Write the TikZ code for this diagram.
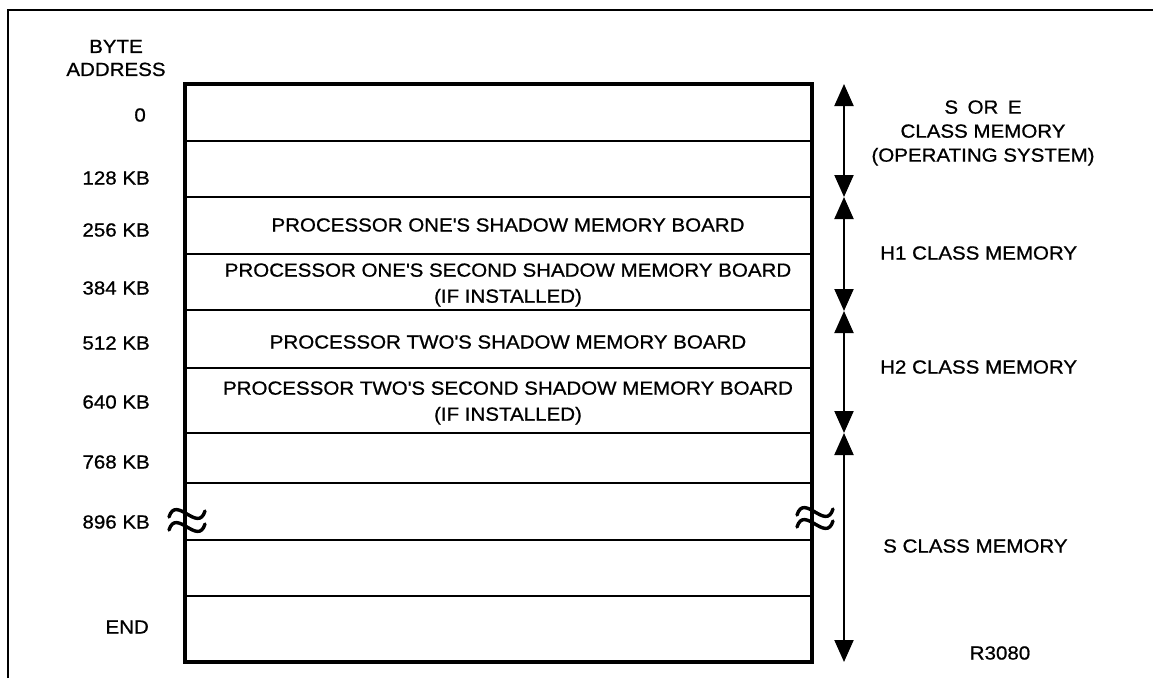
\documentclass[tikz,border=0pt]{standalone}
\usepackage{fontspec}
\setmainfont{Liberation Sans}[FakeStretch=1.08,FakeBold=0.8]
\usetikzlibrary{arrows.meta}
\begin{document}
\begin{tikzpicture}[x=1pt,y=-1pt,
  lbl/.style={inner sep=0pt,font=\fontsize{19}{22}\selectfont},
  addr/.style={lbl,anchor=east},
  rowtxt/.style={inner sep=0pt,align=center,font=\fontsize{19}{26}\selectfont},
  sidetxt/.style={lbl,align=center,font=\fontsize{19}{24}\selectfont},
  frame/.style={line width=2.2pt},
  boxline/.style={line width=1.8pt},
  boxedge/.style={line width=3.5pt},
  dim/.style={line width=2pt,{Triangle[length=22pt,width=19pt]}-{Triangle[length=22pt,width=19pt]}},
  wave/.style={line width=3.4pt,line cap=round}]
\useasboundingbox (0,0) rectangle (1153,678);
% outer frame (open at right and bottom)
\coordinate (fl) at (8,678);
\coordinate (ftl) at (8,10);
\coordinate (ftr) at (1153,10);
\draw[frame] (fl) -- (ftl) -- (ftr);
% row separators
\foreach \yy in {141,197,254,310,368,433,483,540,596}
  \draw[boxline] (185,\yy) -- (812,\yy);
% main box
\draw[boxedge] (185,84) rectangle (812,662);
% break marks
\foreach \xx/\yy in {169/514,169/527,797/512,797/524}
  \draw[wave,fill=none] (\xx,\yy+3) .. controls (\xx+7,\yy-20) and (\xx+29,\yy+20) .. (\xx+36,\yy-3);
% column heading
\node[lbl,align=center,font=\fontsize{19}{23}\selectfont] (hdr) at (116,58) {BYTE\\ADDRESS};
% addresses
\node[addr] (a0) at (146,115) {0};
\node[addr] (a128) at (150,178) {128 KB};
\node[addr] (a256) at (150,230) {256 KB};
\node[addr] (a384) at (150,288) {384 KB};
\node[addr] (a512) at (150,343) {512 KB};
\node[addr] (a640) at (150,402) {640 KB};
\node[addr] (a768) at (150,462) {768 KB};
\node[addr] (a896) at (150,522) {896 KB};
\node[addr] (aend) at (149,627) {END};
% row texts
\node[rowtxt] (r1) at (508,225) {PROCESSOR ONE\textquotesingle S SHADOW MEMORY BOARD};
\node[rowtxt] (r2) at (508,285) {PROCESSOR ONE\textquotesingle S SECOND SHADOW MEMORY BOARD\\(IF INSTALLED)};
\node[rowtxt] (r3) at (508,342) {PROCESSOR TWO\textquotesingle S SHADOW MEMORY BOARD};
\node[rowtxt] (r4) at (508,403) {PROCESSOR TWO\textquotesingle S SECOND SHADOW MEMORY BOARD\\(IF INSTALLED)};
% dimension arrows
\coordinate (d0) at (844,84);
\coordinate (d1) at (844,197);
\coordinate (d2) at (844,311);
\coordinate (d3) at (844,433);
\coordinate (d4) at (844,662);
\draw[dim] (d0) -- (d1);
\draw[dim] (d1) -- (d2);
\draw[dim] (d2) -- (d3);
\draw[dim] (d3) -- (d4);
% side labels
\node[sidetxt] (sos) at (983,133) {S\enspace OR\enspace E\\CLASS MEMORY\\(OPERATING SYSTEM)};
\node[lbl,anchor=west] (h1) at (880,253) {H1 CLASS MEMORY};
\node[lbl,anchor=west] (h2) at (880,367) {H2 CLASS MEMORY};
\node[lbl,anchor=west] (sc) at (883,546) {S CLASS MEMORY};
\node[lbl] (ref) at (1000,653) {R3080};
\end{tikzpicture}
\end{document}
